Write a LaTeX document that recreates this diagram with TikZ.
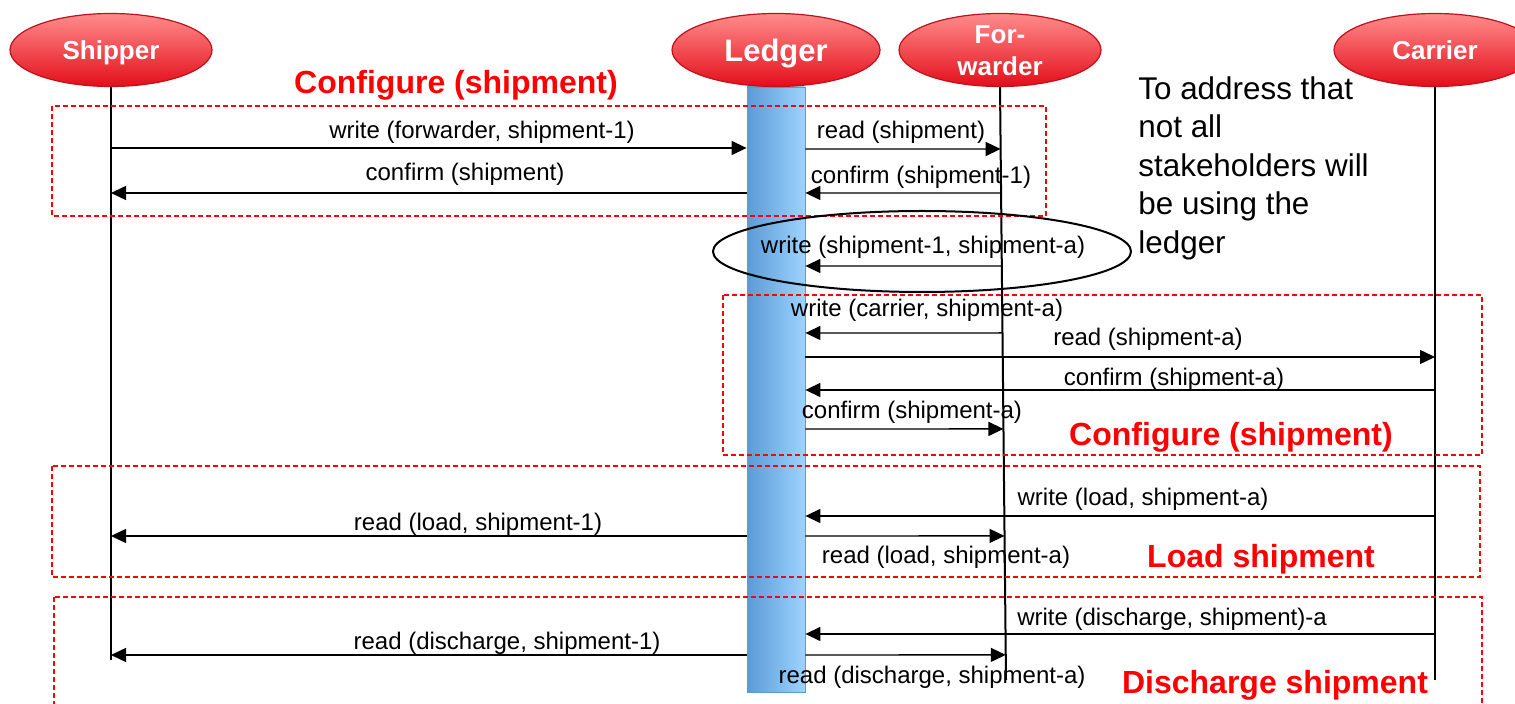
\documentclass[tikz,border=0pt]{standalone}
\usepackage{fontspec}
\setmainfont{Liberation Sans}
\usetikzlibrary{shapes.geometric,arrows.meta,calc}

\definecolor{headtop}{HTML}{FF8C8C}
\definecolor{headbot}{HTML}{E30E1A}
\definecolor{headrim}{HTML}{C0101A}
\definecolor{bardark}{HTML}{5B9BD5}
\definecolor{barlight}{HTML}{9DD3FF}
\definecolor{phasered}{HTML}{FF0000}

\begin{document}
\begin{tikzpicture}[
    x=0.5pt, y=-0.5pt,
    head/.style={
      ellipse,
      draw=headrim,
      line width=0.6pt,
      top color=headtop,
      bottom color=headbot,
      minimum width=101pt,
      minimum height=36.5pt,
      inner sep=0pt,
      text=white,
      text height=9.3pt,
      text depth=0pt,
      font=\fontsize{13}{16}\selectfont\bfseries
    },
    life/.style={line width=1pt},
    msg/.style={
      line width=0.7pt,
      -{Triangle[length=7.5pt,width=7pt]}
    },
    lbl/.style={font=\fontsize{12}{14}\selectfont, inner sep=0pt},
    frame/.style={draw=phasered, line width=0.6pt, dash pattern=on 2.5pt off 1.5pt},
    phase/.style={text=phasered, font=\fontsize{16}{18}\selectfont\bfseries, inner sep=0pt}
    ]
    \useasboundingbox (0,0) rectangle (1515,704);
    \clip (0,0) rectangle (1515,704);

    % ledger bar
    \node[draw=bardark, line width=0.4pt, left color=bardark, middle color=bardark!45!barlight,
      right color=barlight, minimum width=29pt, minimum height=302.5pt, inner sep=0pt]
      (bar) at (776,389.5) {};

    % heads
    \node[head] (shipper) at (111,50) {Shipper};
    \node[head, minimum width=104pt, text height=11.1pt, font=\fontsize{15.5}{17}\selectfont\bfseries]
      (ledger) at (776,50) {Ledger};
    \node[head, align=center, text height=25.3pt, inner ysep=-6pt] (forwarder) at (1000,50) {For-\\warder};
    \node[head] (carrier) at (1435,50) {Carrier};

    % lifelines
    \coordinate (fwtop) at (forwarder.south);
    \coordinate (fwbot) at (1006,680);
    \draw[life] (shipper.south) -- (shipper.south |- 0,660);
    \draw[life] (fwtop) -- (fwbot);
    \draw[life] (carrier.south) -- (carrier.south |- 0,680);

    % phases
    \draw[frame] (52,106) rectangle (1046,216);
    \draw[frame] (723,295) rectangle (1482,455);
    \draw[frame] (52,466) rectangle (1480,577);
    \draw[frame] (54,597) rectangle (1482,720);
    \node[phase] (cfg1) at (456,85) {Configure (shipment)};
    \node[phase] (cfg2) at (1231,437) {Configure (shipment)};
    \node[phase] (load) at (1261,559) {Load shipment};
    \node[phase] (disch) at (1275,685) {Discharge shipment};

    % messages
    \draw[msg] (shipper |- 0,148) -- (bar.west |- 0,148)
      node[lbl] (m1) at (482,132) {write (forwarder, shipment-1)};
    \draw[msg] (bar.west |- 0,193) -- (shipper |- 0,193)
      node[lbl] (m2) at (465,174) {confirm (shipment)};
    \draw[msg] (bar.east |- 0,149) -- ($(fwtop)!(1000,149)!(fwbot)$)
      node[lbl] (m3) at (901,132) {read (shipment)};
    \draw[msg] ($(fwtop)!(1000,193)!(fwbot)$) -- (bar.east |- 0,193)
      node[lbl] (m4) at (921,177) {confirm (shipment-1)};
    \draw[msg] ($(fwtop)!(1000,266)!(fwbot)$) -- (bar.east |- 0,266)
      node[lbl] (m5) at (923,247) {write (shipment-1, shipment-a)};
    \draw[msg] ($(fwtop)!(1000,333)!(fwbot)$) -- (bar.east |- 0,333)
      node[lbl] (m6) at (927,310) {write (carrier, shipment-a)};
    \draw[msg] (bar.east |- 0,357) -- (carrier |- 0,357)
      node[lbl] (m7) at (1148,339) {read (shipment-a)};
    \draw[msg] (carrier |- 0,390) -- (bar.east |- 0,390)
      node[lbl] (m8) at (1174,379) {confirm (shipment-a)};
    \draw[msg] (bar.east |- 0,429) -- ($(fwtop)!(1000,429)!(fwbot)$)
      node[lbl] (m9) at (912,412) {confirm (shipment-a)};
    \draw[msg] (carrier |- 0,516) -- (bar.east |- 0,516)
      node[lbl] (m10) at (1143,499) {write (load, shipment-a)};
    \draw[msg] (bar.west |- 0,536) -- (shipper |- 0,536)
      node[lbl] (m11) at (478,524) {read (load, shipment-1)};
    \draw[msg] (bar.east |- 0,536) -- ($(fwtop)!(1000,536)!(fwbot)$)
      node[lbl] (m12) at (946,557) {read (load, shipment-a)};
    \draw[msg] (carrier |- 0,634) -- (bar.east |- 0,634)
      node[lbl] (m13) at (1172,619) {write (discharge, shipment)-a};
    \draw[msg] (bar.west |- 0,655) -- (shipper |- 0,655)
      node[lbl] (m14) at (507,643) {read (discharge, shipment-1)};
    \draw[msg] (bar.east |- 0,655) -- ($(fwtop)!(1000,655)!(fwbot)$)
      node[lbl] (m15) at (932,677) {read (discharge, shipment-a)};

    % note
    \node[draw, ellipse, line width=1pt, minimum width=209pt, minimum height=40.5pt]
      (focus) at (922,251.5) {};
    \node[anchor=north west, align=left, inner sep=0pt, font=\fontsize{15.7}{19.25}\selectfont]
      (remark) at (1138,76) {To address that\\not all\\stakeholders will\\be using the\\ledger};
\end{tikzpicture}
\end{document}
